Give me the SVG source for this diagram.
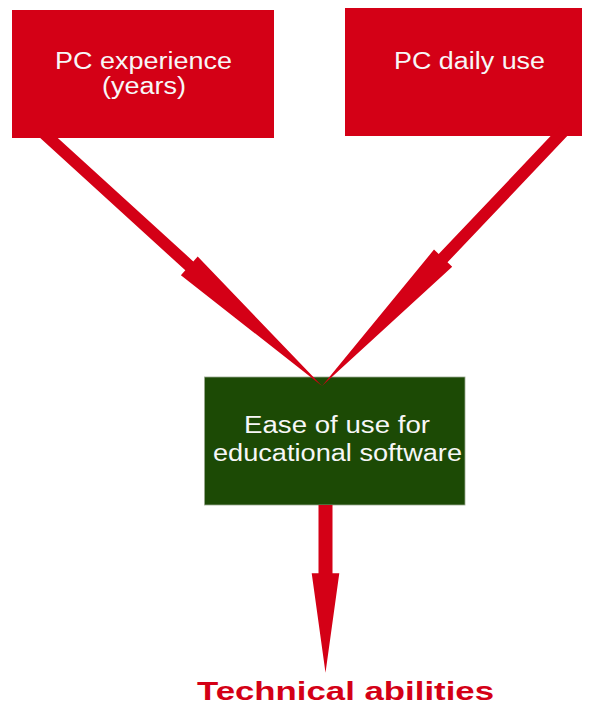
<svg xmlns="http://www.w3.org/2000/svg" width="597" height="706" viewBox="0 0 597 706">
  <style>
    .red { fill: #d40016; }
    .green { fill: #1c4a05; stroke: #9aa890; stroke-width: 0.8; }
    .lbl { font-family: "Liberation Sans", Arial, sans-serif; font-size: 23px; fill: #f7f7f7; text-anchor: middle; }
    .out { font-family: "Liberation Sans", Arial, sans-serif; font-size: 25px; font-weight: bold; fill: #d40016; text-anchor: middle; }
    .arrow { fill: #d40016; }
  </style>
  <rect width="597" height="706" fill="#ffffff"/>
  <g id="node-pc-experience">
    <rect class="red" x="12" y="10" width="262" height="128"/>
    <text class="lbl" x="143.5" y="69.3" textLength="177" lengthAdjust="spacingAndGlyphs">PC experience</text>
    <text class="lbl" x="144" y="94" textLength="84" lengthAdjust="spacingAndGlyphs">(years)</text>
  </g>
  <g id="node-pc-daily-use">
    <rect class="red" x="345" y="8" width="237" height="128"/>
    <text class="lbl" x="469.5" y="69.3" textLength="151" lengthAdjust="spacingAndGlyphs">PC daily use</text>
  </g>
  <g id="node-ease-of-use">
    <rect class="green" x="204.5" y="377" width="260.5" height="128"/>
    <text class="lbl" x="337" y="432.7" textLength="186" lengthAdjust="spacingAndGlyphs">Ease of use for</text>
    <text class="lbl" x="337.5" y="460.7" textLength="249" lengthAdjust="spacingAndGlyphs">educational software</text>
  </g>
  <g id="node-technical-abilities">
    <text class="out" x="345.5" y="699.5" textLength="297" lengthAdjust="spacingAndGlyphs">Technical abilities</text>
  </g>
  <g id="connectors">
    <polygon class="arrow" points="47.1,128.2 193.3,261.4 197.7,256.6 322,386 180.9,275.2 185.3,270.3 39.1,137.1"/>
    <polygon class="arrow" points="560.1,126.1 438.7,254.1 434.0,249.6 322,386 452.2,266.8 447.5,262.3 568.9,134.3"/>
    <polygon class="arrow" points="318.5,505 332.5,505 332.5,573.3 339.3,573.3 325.5,672.7 311.7,573.3 318.5,573.3"/>
  </g>
</svg>
